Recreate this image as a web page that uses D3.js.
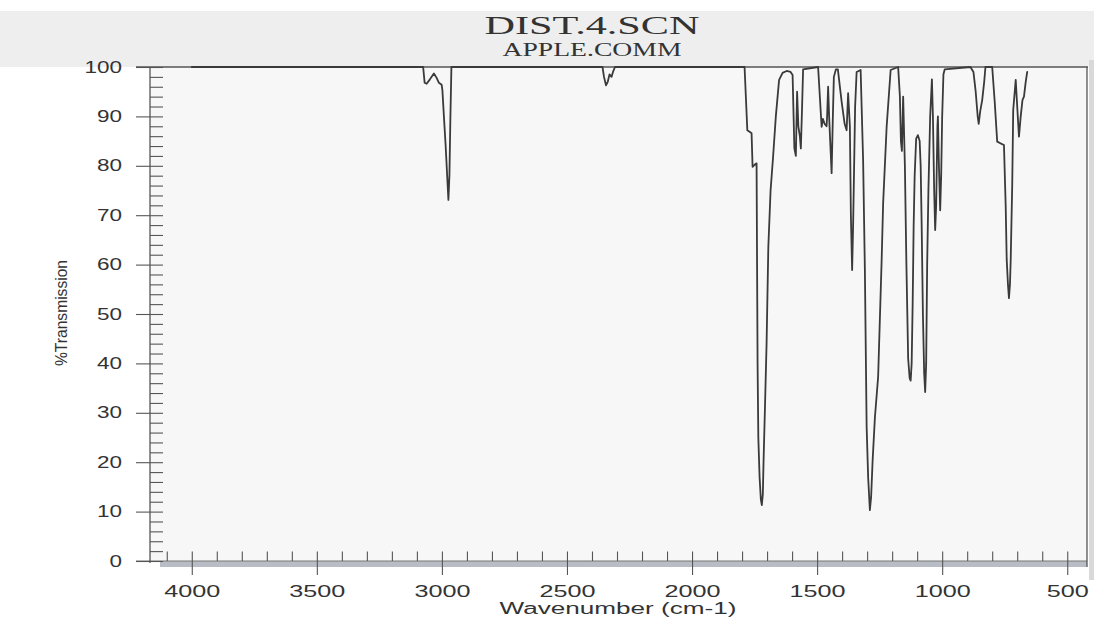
<!DOCTYPE html>
<html>
<head>
<meta charset="utf-8">
<script src="https://cdn.jsdelivr.net/npm/d3@7"></script>
<style>
  html, body { margin: 0; padding: 0; background: #ffffff; }
  svg { display: block; }
</style>
</head>
<body>
<svg id="chart" width="1094" height="618"></svg>
<script>
// IR spectrum: wavenumber (cm-1) and percent transmission
const wavenumbers = [
  4000, 3075, 3069, 3061, 3048, 3032, 3021, 3012, 3001, 2998, 2992, 2985, 2978, 2974, 2970, 2966, 2962,
  2358, 2352, 2344, 2337, 2330, 2322, 2316, 2308,
  1790, 1784, 1779, 1770, 1762, 1758, 1750, 1742, 1740, 1738, 1735, 1730, 1725, 1721, 1717, 1714, 1709,
  1702, 1695, 1686, 1676, 1665, 1652, 1638, 1622, 1606, 1598, 1591, 1585, 1580, 1575, 1569, 1565, 1560, 1556,
  1496, 1482, 1477, 1470, 1462, 1460, 1456, 1452, 1442, 1437, 1433, 1425, 1417, 1402, 1390, 1382, 1376,
  1369, 1365, 1360, 1356, 1352, 1348, 1342, 1326, 1316, 1309, 1302, 1296, 1289, 1284, 1278, 1269, 1256,
  1242, 1236, 1222, 1206, 1176, 1169, 1165, 1161, 1156, 1152, 1149, 1143, 1136, 1130, 1126, 1122, 1118,
  1114, 1110, 1104, 1097, 1090, 1086, 1082, 1077, 1072, 1068, 1064, 1060, 1055, 1048, 1041, 1037, 1032,
  1028, 1024, 1019, 1017, 1013, 1008, 1004, 1000, 995, 990, 887, 875, 866, 858, 854, 848, 840, 832, 827,
  800, 790, 780, 765, 753, 746, 742, 737, 733, 729, 726, 720, 716, 706, 700, 693, 686, 679, 673, 666, 660
];
const transmission = [
  100, 100, 96.8, 96.6, 97.5, 98.7, 97.8, 96.8, 96.4, 95.3, 90, 84, 77, 73.1, 78, 90, 100,
  100, 98, 96.3, 97, 98.5, 98, 99, 100,
  100, 93, 87.2, 86.9, 86.6, 79.8, 80.2, 80.5, 60, 40, 25, 17, 12.5, 11.3, 13.5, 20.4, 30,
  44, 63.6, 75, 81.8, 90, 97.4, 98.8, 99.2, 99, 98.4, 83.6, 82, 95, 88, 86, 83.5, 92, 99.5,
  100, 87.9, 89.5, 88.5, 88, 90, 96, 90, 78.5, 90, 98, 99.5, 99.5, 93, 88.5, 87.2, 94.7,
  88, 70, 58.9, 68, 80, 92, 99, 99.4, 81, 58.9, 27.2, 17, 10.3, 13, 20.4, 29, 37.3,
  60.9, 72.4, 87.9, 99.4, 100, 94, 85, 83, 94, 86, 79.8, 60, 41, 37, 36.5, 40, 52,
  68, 78, 85.5, 86.2, 85, 80, 68, 50, 38, 34.2, 40, 60, 75, 90, 97.5, 90, 75,
  67, 72, 88, 90, 80, 71, 78, 90, 98.5, 99.5, 100, 99, 95, 90, 88.5, 91, 93.3, 97, 100,
  100, 93, 84.9, 84.5, 84.2, 71.7, 61, 56, 53.2, 56, 61, 76, 91.3, 97.4, 92, 85.9, 90, 93.3, 94, 97, 99
];

const xMajorTicks = [4000, 3500, 3000, 2500, 2000, 1500, 1000, 500];
const xMinorTicks = d3.range(4100, 499, -100);
const yMajorTicks = [0, 10, 20, 30, 40, 50, 60, 70, 80, 90, 100];
const yMinorTicks = d3.range(0, 101, 2);

const titleText = "DIST.4.SCN";
const subtitleText = "APPLE.COMM";
const xLabel = "Wavenumber (cm-1)";
const yLabel = "%Transmission";

const svg = d3.select("#chart");

const x = d3.scaleLinear().domain([4167, 421]).range([150, 1087]);
const y = d3.scaleLinear().domain([0, 100]).range([561, 67]);

const ink = "#3a3a3a";
const frame = "#555";
const sans = "'Liberation Sans', Arial, sans-serif";
const serif = "'Liberation Serif', 'DejaVu Serif', serif";

// paper tones
svg.append("rect").attr("x", 0).attr("y", 0).attr("width", 1094).attr("height", 618).attr("fill", "#ffffff");
svg.append("rect").attr("x", 0).attr("y", 11).attr("width", 1094).attr("height", 56).attr("fill", "#eeeeee");
svg.append("rect").attr("x", x.range()[0]).attr("y", y(100)).attr("width", x.range()[1] - x.range()[0])
  .attr("height", y(0) - y(100)).attr("fill", "#f7f7f7");
svg.append("rect").attr("x", 1089).attr("y", 60).attr("width", 5).attr("height", 520).attr("fill", "#d9d9d9");

// titles
svg.append("text").attr("x", 592).attr("y", 34).attr("text-anchor", "middle")
  .attr("font-family", serif).attr("font-size", 25)
  .attr("fill", "#333").attr("textLength", 215).attr("lengthAdjust", "spacingAndGlyphs")
  .text(titleText);
svg.append("text").attr("x", 592).attr("y", 56).attr("text-anchor", "middle")
  .attr("font-family", serif).attr("font-size", 18)
  .attr("fill", "#333").attr("textLength", 179).attr("lengthAdjust", "spacingAndGlyphs")
  .text(subtitleText);

// bottom shaded rail
svg.append("rect").attr("x", 160).attr("y", y(0)).attr("width", x.range()[1] - 160).attr("height", 6)
  .attr("fill", "#b8bcc5");
svg.append("line").attr("x1", 136).attr("x2", x.range()[1]).attr("y1", y(0)).attr("y2", y(0))
  .attr("stroke", "#777").attr("stroke-width", 1);

// y axis: minor ticks to the right, majors both sides with labels
const gyMinor = svg.append("g").attr("transform", `translate(${x.range()[0]},0)`)
  .call(d3.axisRight(y).tickValues(yMinorTicks).tickSize(13).tickFormat(""));
const gyMajor = svg.append("g").attr("transform", `translate(${x.range()[0]},0)`)
  .call(d3.axisLeft(y).tickValues(yMajorTicks).tickSize(14).tickPadding(14).tickFormat(d3.format("d")));
[gyMinor, gyMajor].forEach(g => {
  g.select(".domain").remove();
  g.selectAll(".tick line").attr("stroke", frame).attr("stroke-width", 1.1);
});
gyMajor.selectAll(".tick text")
  .attr("font-family", sans).attr("font-size", 16)
  .attr("fill", "#333")
  .attr("textLength", d => String(d).length * 12.5).attr("lengthAdjust", "spacingAndGlyphs");

// x axis: minor ticks above the rail, majors crossing it
const gxMinor = svg.append("g").attr("transform", `translate(0,${y(0)})`)
  .call(d3.axisTop(x).tickValues(xMinorTicks).tickSize(9.5).tickFormat(""));
const gxMajor = svg.append("g").attr("transform", `translate(0,${y(0)})`)
  .call(d3.axisBottom(x).tickValues(xMajorTicks).tickSize(14).tickPadding(10).tickFormat(d3.format("d")));
[gxMinor, gxMajor].forEach(g => {
  g.select(".domain").remove();
  g.selectAll(".tick line").attr("stroke", frame).attr("stroke-width", 1.1);
});
gxMajor.selectAll(".tick text")
  .attr("font-family", sans).attr("font-size", 17)
  .attr("fill", "#333")
  .attr("textLength", d => String(d).length * 14).attr("lengthAdjust", "spacingAndGlyphs");

// frame
svg.append("line").attr("x1", x.range()[0]).attr("x2", x.range()[0]).attr("y1", y(100)).attr("y2", y(0) + 2)
  .attr("stroke", frame).attr("stroke-width", 1.3);
svg.append("line").attr("x1", 136).attr("x2", x.range()[1] + 1).attr("y1", y(100)).attr("y2", y(100))
  .attr("stroke", frame).attr("stroke-width", 1.3);
svg.append("line").attr("x1", x.range()[1]).attr("x2", x.range()[1]).attr("y1", y(100)).attr("y2", y(0) + 6)
  .attr("stroke", frame).attr("stroke-width", 1.3);

// axis titles
svg.append("text").attr("transform", "translate(67,313) rotate(-90)").attr("text-anchor", "middle")
  .attr("font-family", sans).attr("font-size", 17)
  .attr("fill", "#333").attr("textLength", 106).attr("lengthAdjust", "spacingAndGlyphs")
  .text(yLabel);
svg.append("text").attr("x", 618).attr("y", 614).attr("text-anchor", "middle")
  .attr("font-family", sans).attr("font-size", 16)
  .attr("fill", "#333").attr("textLength", 237).attr("lengthAdjust", "spacingAndGlyphs")
  .text(xLabel);

// spectrum trace
const points = wavenumbers.map((w, i) => [w, transmission[i]]);
const line = d3.line().x(d => x(d[0])).y(d => y(d[1]));
svg.append("path").datum(points).attr("d", line)
  .attr("fill", "none").attr("stroke", ink).attr("stroke-width", 1.8)
  .attr("stroke-linejoin", "round").attr("stroke-linecap", "round");
</script>
</body>
</html>
